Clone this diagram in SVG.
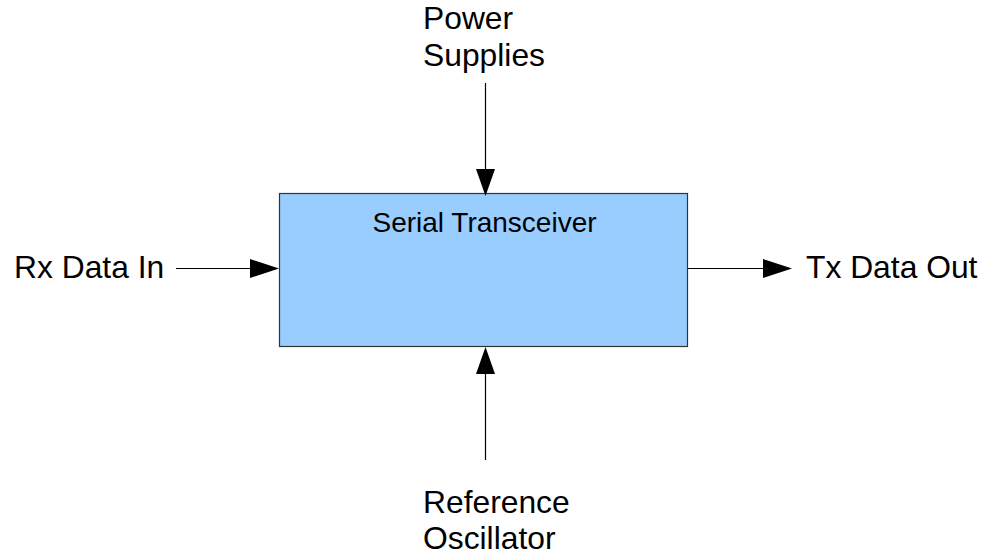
<svg xmlns="http://www.w3.org/2000/svg" width="995" height="558" viewBox="0 0 995 558">
<style>
text{font-family:"Liberation Sans",Arial,sans-serif;fill:#000}
.lbl{font-size:31.8px}
.conn line{stroke:#000;stroke-width:1.2}
.head{fill:#000}
</style>
<rect width="995" height="558" fill="#fff"/>
<g id="transceiver">
<rect x="279.5" y="193.5" width="408" height="153" fill="#99ccff" stroke="#333" stroke-width="1.2"/>
<text x="484.5" y="232" font-size="28" text-anchor="middle">Serial Transceiver</text>
</g>
<g id="power"><text class="lbl" x="423" y="29">Power</text><text class="lbl" x="423" y="66">Supplies</text></g>
<g id="rx"><text class="lbl" x="14" y="278">Rx Data In</text></g>
<g id="tx"><text class="lbl" x="806" y="278">Tx Data Out</text></g>
<g id="osc"><text class="lbl" x="423" y="513">Reference</text><text class="lbl" x="423" y="549">Oscillator</text></g>
<g id="connectors" class="conn">
<line x1="485.5" y1="83" x2="485.5" y2="172"/>
<polygon class="head" points="476,169 495,169 485.5,196"/>
<line x1="485.5" y1="460" x2="485.5" y2="370"/>
<polygon class="head" points="476,374 495,374 485.5,347"/>
<line x1="176" y1="268.5" x2="253" y2="268.5"/>
<polygon class="head" points="250,259 250,278 279,268.5"/>
<line x1="688" y1="268.5" x2="766" y2="268.5"/>
<polygon class="head" points="763,259 763,278 792,268.5"/>
</g>
</svg>
